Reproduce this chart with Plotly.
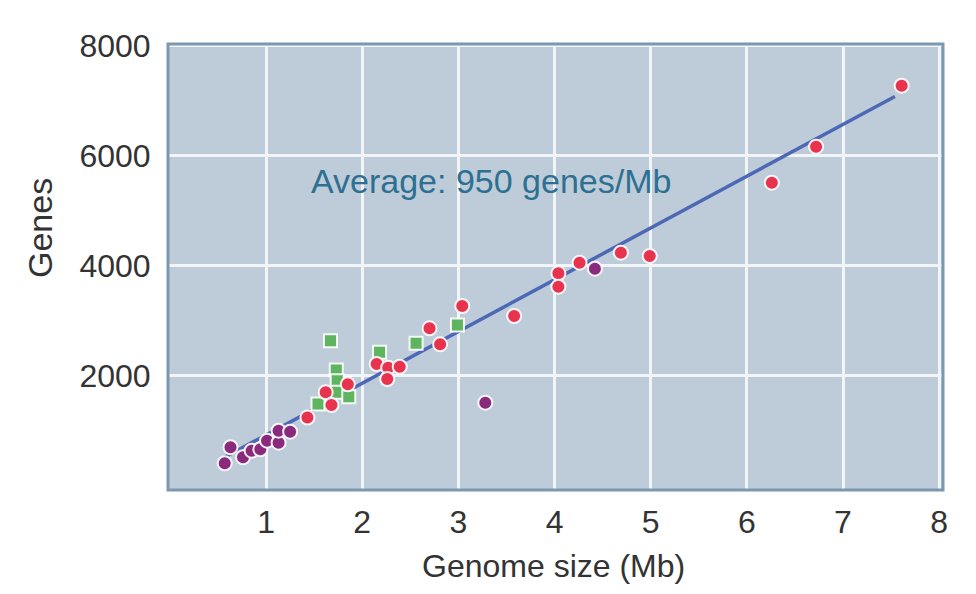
import plotly.graph_objects as go

# Data
red_x = [7.61, 6.72, 6.26, 4.99, 4.69, 4.26, 4.04, 4.04, 3.58, 3.04, 2.70, 2.81,
         2.15, 2.27, 2.39, 2.26, 1.85, 1.62, 1.68, 1.43]
red_y = [7278, 6169, 5515, 4182, 4242, 4060, 3867, 3624, 3091, 3273, 2867, 2576,
         2218, 2151, 2169, 1945, 1849, 1704, 1473, 1245]

green_x = [1.67, 2.18, 2.56, 2.99, 1.73, 1.74, 1.74, 1.86, 1.54]
green_y = [2642, 2431, 2595, 2927, 2109, 1915, 1704, 1624, 1491]

purple_x = [0.57, 0.63, 0.76, 0.85, 0.94, 1.01, 1.13, 1.13, 1.25, 3.28, 4.42]
purple_y = [413, 704, 522, 642, 667, 824, 787, 1005, 987, 1515, 3951]

fit_x = [0.55, 7.54]
fit_y = [505, 7080]

x_ticks = [1, 2, 3, 4, 5, 6, 7, 8]
y_ticks = [2000, 4000, 6000, 8000]

BG = "#bdccd8"
FONT = "Liberation Sans, Arial, sans-serif"
TXT = "#333333"

# screen-space plot box of the reference (page has 8px body margin)
PL, PR, PT, PB = 168, 943, 44, 490
PW, PH = PR - PL, PB - PT


def px(sx):
    return (sx - PL) / PW


def py(sy):
    return (PB - sy) / PH


fig = go.Figure()

fig.add_trace(go.Scatter(x=fit_x, y=fit_y, mode="lines",
                         line=dict(color="#4d68b5", width=3.5), hoverinfo="skip"))

mk_line = dict(color="rgba(255,255,255,0.9)", width=2)
fig.add_trace(go.Scatter(x=green_x, y=green_y, mode="markers",
                         marker=dict(symbol="square", size=13, color="#5fb45f", line=mk_line)))
fig.add_trace(go.Scatter(x=purple_x, y=purple_y, mode="markers",
                         marker=dict(symbol="circle", size=14, color="#8a2a7d", line=mk_line)))
fig.add_trace(go.Scatter(x=red_x, y=red_y, mode="markers",
                         marker=dict(symbol="circle", size=14, color="#e8334f", line=mk_line)))

fig.add_annotation(text="Average: 950 genes/Mb", xref="paper", yref="paper",
                   x=px(309), y=py(181), xanchor="left", yanchor="middle",
                   showarrow=False, font=dict(family=FONT, size=34, color="#2e7092"))

fig.add_annotation(text="Genes", xref="paper", yref="paper",
                   x=px(40), y=py(228), xanchor="center", yanchor="middle",
                   textangle=-90, showarrow=False, font=dict(family=FONT, size=34, color=TXT))

fig.add_annotation(text="Genome size (Mb)", xref="paper", yref="paper",
                   x=px(553), y=py(566), xanchor="center", yanchor="middle",
                   showarrow=False, font=dict(family=FONT, size=32, color=TXT))

fig.add_shape(type="rect", xref="paper", yref="paper", x0=0, y0=0, x1=1, y1=1,
              line=dict(color="#7b98b0", width=3), layer="above")

fig.update_layout(
    width=960, height=578,
    margin=dict(l=PL - 8, r=960 - (PR - 8), t=PT - 8, b=578 - (PB - 8)),
    paper_bgcolor="white", plot_bgcolor=BG,
    showlegend=False,
    font=dict(family=FONT, size=32, color=TXT),
    xaxis=dict(range=[-0.02, 8.04], tickvals=x_ticks, ticktext=[str(v) for v in x_ticks],
               showgrid=True, gridcolor="#f2f5f8", gridwidth=3, zeroline=False,
               ticks="outside", ticklen=4, tickcolor="rgba(0,0,0,0)",
               tickfont=dict(family=FONT, size=32, color=TXT)),
    yaxis=dict(range=[-73, 8036], tickvals=y_ticks, ticktext=[str(v) for v in y_ticks],
               showgrid=True, gridcolor="#f2f5f8", gridwidth=3, zeroline=False,
               ticks="outside", ticklen=10, tickcolor="rgba(0,0,0,0)",
               tickfont=dict(family=FONT, size=32, color=TXT)),
)

fig.write_html("out.html")
